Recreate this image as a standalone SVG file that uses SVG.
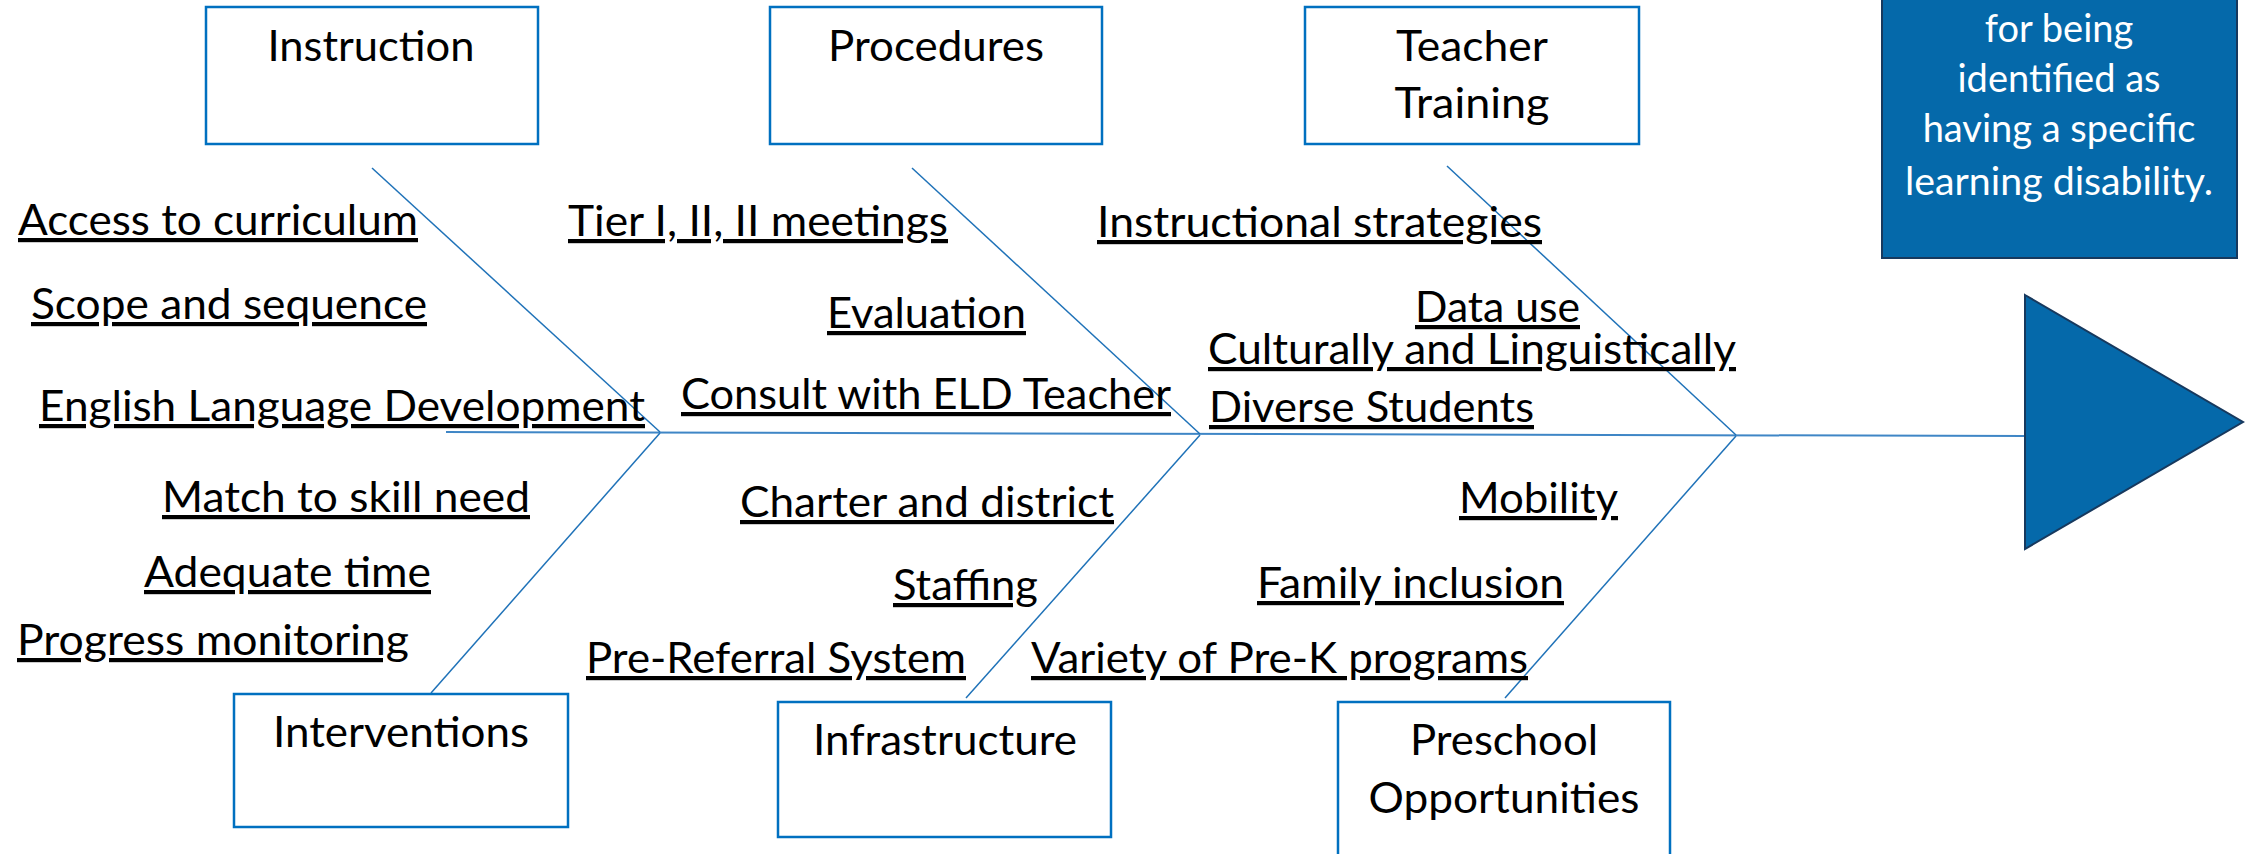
<svg xmlns="http://www.w3.org/2000/svg" width="2257" height="854" viewBox="0 0 2257 854">
<style>
  .box { fill: #ffffff; stroke: #0070C0; stroke-width: 2.5; }
  .title { font-family: Lato, "Open Sans", "Liberation Sans", sans-serif; font-size: 42px; fill: #000000; text-anchor: middle; }
  .lbl { font-family: Lato, "Open Sans", "Liberation Sans", sans-serif; font-size: 42px; fill: #000000; text-decoration: underline; }
  .goal { fill: #0569AA; stroke: #17395E; stroke-width: 2; }
  .goaltxt { font-family: Lato, "Open Sans", "Liberation Sans", sans-serif; font-size: 38px; fill: #ffffff; text-anchor: middle; }
  .bone { stroke: #1F72B8; stroke-width: 1.5; fill: none; }
  .spine { stroke: #3F86C6; stroke-width: 2; fill: none; }
</style>

<g id="connectors">
  <line class="spine" x1="446" y1="432" x2="2025" y2="436"/>
  <line class="bone" x1="372" y1="168" x2="660" y2="432"/>
  <line class="bone" x1="660" y1="433" x2="431" y2="693"/>
  <line class="bone" x1="912" y1="168" x2="1200" y2="434"/>
  <line class="bone" x1="1200" y1="435" x2="966" y2="698"/>
  <line class="bone" x1="1447" y1="166" x2="1736" y2="435"/>
  <line class="bone" x1="1736" y1="436" x2="1505" y2="698"/>
</g>

<g id="instruction">
  <rect class="box" x="206" y="7" width="332" height="137"/>
  <text class="title" x="371" y="61" textLength="207" lengthAdjust="spacingAndGlyphs">Instruction</text>
  <text class="lbl" x="18" y="235" textLength="400" lengthAdjust="spacingAndGlyphs">Access to curriculum</text>
  <text class="lbl" x="31" y="319" textLength="396" lengthAdjust="spacingAndGlyphs">Scope and sequence</text>
  <text class="lbl" x="39" y="421" textLength="606" lengthAdjust="spacingAndGlyphs">English Language Development</text>
</g>

<g id="interventions">
  <rect class="box" x="234" y="694" width="334" height="133"/>
  <text class="title" x="401" y="747" textLength="256" lengthAdjust="spacingAndGlyphs">Interventions</text>
  <text class="lbl" x="162" y="512" textLength="368" lengthAdjust="spacingAndGlyphs">Match to skill need</text>
  <text class="lbl" x="144" y="587" textLength="287" lengthAdjust="spacingAndGlyphs">Adequate time</text>
  <text class="lbl" x="17" y="655" textLength="392" lengthAdjust="spacingAndGlyphs">Progress monitoring</text>
</g>

<g id="procedures">
  <rect class="box" x="770" y="7" width="332" height="137"/>
  <text class="title" x="936" y="61" textLength="216" lengthAdjust="spacingAndGlyphs">Procedures</text>
  <text class="lbl" x="568" y="236" textLength="380" lengthAdjust="spacingAndGlyphs">Tier I, II, II meetings</text>
  <text class="lbl" x="827" y="328" textLength="199" lengthAdjust="spacingAndGlyphs">Evaluation</text>
  <text class="lbl" x="681" y="409" textLength="490" lengthAdjust="spacingAndGlyphs">Consult with ELD Teacher</text>
</g>

<g id="infrastructure">
  <rect class="box" x="778" y="702" width="333" height="135"/>
  <text class="title" x="945" y="755" textLength="264" lengthAdjust="spacingAndGlyphs">Infrastructure</text>
  <text class="lbl" x="740" y="517" textLength="374" lengthAdjust="spacingAndGlyphs">Charter and district</text>
  <text class="lbl" x="893" y="600" textLength="145" lengthAdjust="spacingAndGlyphs">Staffing</text>
  <text class="lbl" x="586" y="673" textLength="380" lengthAdjust="spacingAndGlyphs">Pre-Referral System</text>
</g>

<g id="teacher-training">
  <rect class="box" x="1305" y="7" width="334" height="137"/>
  <text class="title" x="1472" y="61" textLength="152" lengthAdjust="spacingAndGlyphs">Teacher</text>
  <text class="title" x="1472" y="118" textLength="155" lengthAdjust="spacingAndGlyphs">Training</text>
  <text class="lbl" x="1097" y="237" textLength="445" lengthAdjust="spacingAndGlyphs">Instructional strategies</text>
  <text class="lbl" x="1415" y="322" textLength="165" lengthAdjust="spacingAndGlyphs">Data use</text>
  <text class="lbl" x="1208" y="364" textLength="528" lengthAdjust="spacingAndGlyphs">Culturally and Linguistically</text>
  <text class="lbl" x="1209" y="422" textLength="325" lengthAdjust="spacingAndGlyphs">Diverse Students</text>
</g>

<g id="preschool-opportunities">
  <rect class="box" x="1338" y="702" width="332" height="190"/>
  <text class="title" x="1504" y="755" textLength="188" lengthAdjust="spacingAndGlyphs">Preschool</text>
  <text class="title" x="1504" y="813" textLength="271" lengthAdjust="spacingAndGlyphs">Opportunities</text>
  <text class="lbl" x="1459" y="513" textLength="159" lengthAdjust="spacingAndGlyphs">Mobility</text>
  <text class="lbl" x="1257" y="598" textLength="307" lengthAdjust="spacingAndGlyphs">Family inclusion</text>
  <text class="lbl" x="1031" y="673" textLength="497" lengthAdjust="spacingAndGlyphs">Variety of Pre-K programs</text>
</g>

<g id="effect">
  <rect class="goal" x="1882" y="-40" width="355" height="298"/>
  <text class="goaltxt" x="2059" y="42">for being</text>
  <text class="goaltxt" x="2059" y="92">identified as</text>
  <text class="goaltxt" x="2059" y="142">having a specific</text>
  <text class="goaltxt" x="2059" y="195" textLength="308" lengthAdjust="spacingAndGlyphs">learning disability.</text>
  <polygon class="goal" points="2025,295 2243,422 2025,549"/>
</g>
</svg>
